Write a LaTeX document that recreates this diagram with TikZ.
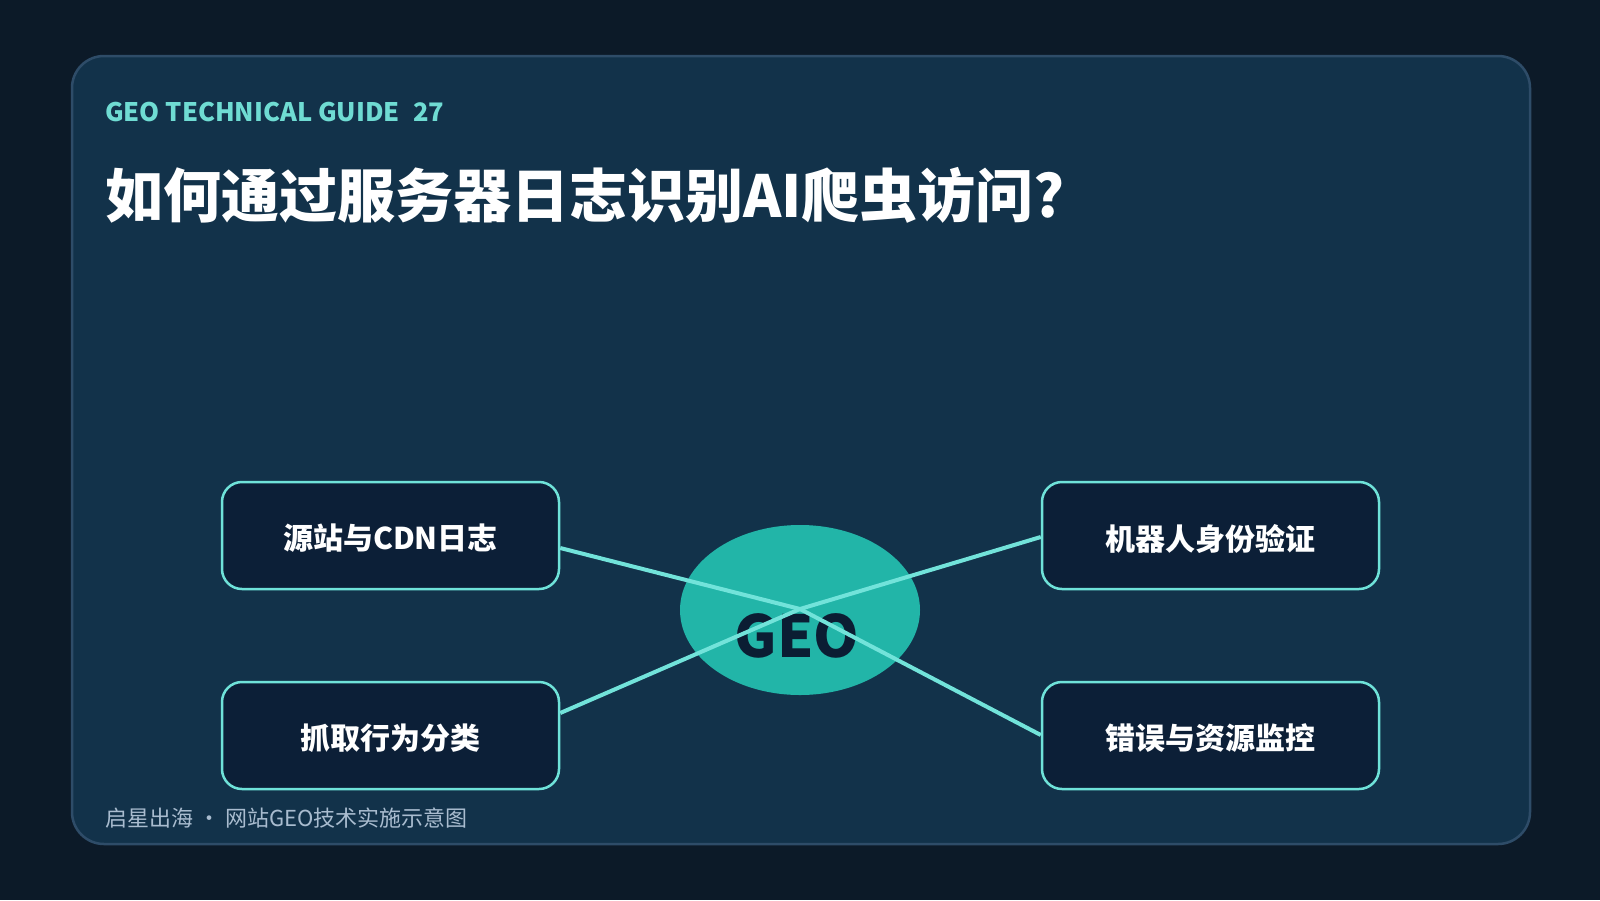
\documentclass[tikz,border=0pt]{standalone}
\usepackage{fontspec}
\setmainfont{Noto Sans CJK SC}
\usetikzlibrary{calc,shapes.geometric}
\definecolor{bgout}{HTML}{0C1A28}
\definecolor{cardfill}{HTML}{12324A}
\definecolor{cardline}{HTML}{2E4C68}
\definecolor{kicker}{HTML}{6FDCD3}
\definecolor{boxfill}{HTML}{0C1F37}
\definecolor{boxline}{HTML}{6FE2D9}
\definecolor{geofill}{HTML}{22B5A8}
\definecolor{geotext}{HTML}{0B1D33}
\definecolor{linkcol}{HTML}{72E3DA}
\definecolor{foot}{HTML}{A9BCCF}
\begin{document}
\begin{tikzpicture}[x=1pt,y=-1pt,
  txt/.style={inner sep=0pt, anchor=base west},
  stepbox/.style={draw=boxline, fill=boxfill, line width=2.5pt, rounded corners=20pt,
    minimum width=337pt, minimum height=107pt, inner sep=0pt},
  boxlabel/.style={inner sep=0pt, text=white, font=\fontsize{30}{32}\selectfont\bfseries},
  hub/.style={ellipse, fill=geofill, minimum width=240pt, minimum height=170pt, inner sep=0pt},
  link/.style={draw=linkcol, line width=4pt}]
\useasboundingbox (0,0) rectangle (1600,900);
\fill[bgout] (0,0) rectangle (1600,900);
\draw[fill=cardfill, draw=cardline, line width=2.5pt, rounded corners=32pt] (72,56) rectangle (1530,844);

\node[txt, text=kicker, font=\fontsize{25.5}{28}\selectfont\bfseries] (kick) at (105,121) {GEO TECHNICAL GUIDE\hspace{13pt}27};
\node[txt, text=white, font=\fontsize{58}{62}\selectfont\bfseries] (title) at (105,217) {如何通过服务器日志识别AI爬虫访问?};

\node[hub] (geo) at (800,610) {};
\node[inner sep=0pt, anchor=base, text=geotext, font=\fontsize{58}{60}\selectfont\bfseries] (geolabel) at (797,657) {GEO};
\coordinate (c) at (800,609);

\node[stepbox] (b1) at (390.5,535.5) {};
\node[stepbox] (b2) at (390.5,735.5) {};
\node[stepbox] (b3) at (1210.5,535.5) {};
\node[stepbox] (b4) at (1210.5,735.5) {};
\node[boxlabel] (t1) at ($(b1.center)+(0,3)$) {源站与CDN日志};
\node[boxlabel] (t2) at ($(b2.center)+(0,3)$) {抓取行为分类};
\node[boxlabel] (t3) at ($(b3.center)+(0,3)$) {机器人身份验证};
\node[boxlabel] (t4) at ($(b4.center)+(0,3)$) {错误与资源监控};

\draw[link] ($(b1.east)+(0,12.5)$) -- (c);
\draw[link] ($(b2.east)+(0,-22.5)$) -- (c);
\draw[link] ($(b3.west)+(0,1.5)$) -- (c);
\draw[link] ($(b4.west)+(0,-0.5)$) -- (c);

\node[txt, text=foot, font=\fontsize{22}{24}\selectfont] (footer) at (105,826) {启星出海 • 网站GEO技术实施示意图};
\end{tikzpicture}
\end{document}
